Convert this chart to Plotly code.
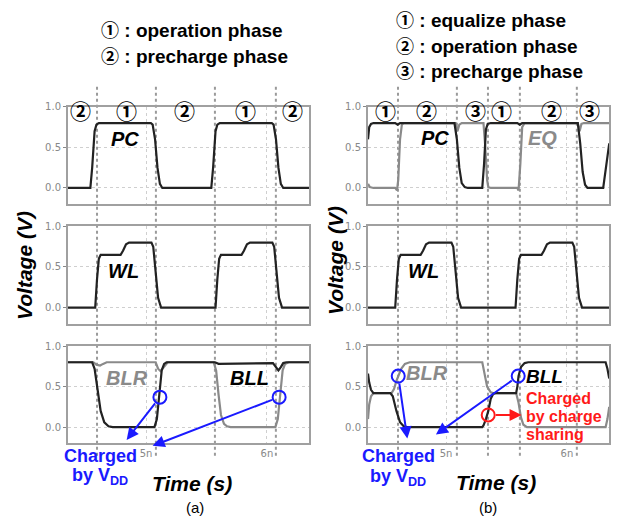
import plotly.graph_objects as go

W, H = 623, 519

# ---------------- data (time in ns, voltage in V) ----------------
# (a) left column
pc_a_t = [4.355, 4.54, 4.555, 4.575, 4.59, 4.61, 5.04, 5.055, 5.075, 5.095, 5.115, 5.135, 5.54, 5.555, 5.575, 5.59, 5.61, 6.04, 6.055, 6.075, 6.095, 6.115, 6.135, 6.35]
pc_a_v = [0.0, 0.0, 0.25, 0.7, 0.78, 0.8, 0.8, 0.78, 0.6, 0.25, 0.05, 0.0, 0.0, 0.25, 0.7, 0.78, 0.8, 0.8, 0.78, 0.6, 0.25, 0.05, 0.0, 0.0]

wl_a_t = [4.355, 4.58, 4.595, 4.61, 4.625, 4.645, 4.79, 4.81, 4.835, 4.86, 5.045, 5.06, 5.08, 5.10, 5.125, 5.575, 5.59, 5.605, 5.62, 5.64, 5.79, 5.81, 5.835, 5.86, 6.045, 6.06, 6.08, 6.10, 6.125, 6.35]
wl_a_v = [0.0, 0.0, 0.35, 0.6, 0.65, 0.65, 0.65, 0.7, 0.78, 0.8, 0.8, 0.75, 0.45, 0.12, 0.0, 0.0, 0.35, 0.6, 0.65, 0.65, 0.65, 0.7, 0.78, 0.8, 0.8, 0.75, 0.45, 0.12, 0.0, 0.0]

bll_a_t = [4.355, 4.555, 4.575, 4.6, 4.625, 4.655, 4.69, 4.725, 5.07, 5.09, 5.11, 5.13, 5.15, 5.17, 5.57, 5.6, 6.05, 6.075, 6.095, 6.115, 6.135, 6.16, 6.35]
bll_a_v = [0.8, 0.8, 0.72, 0.45, 0.2, 0.06, 0.01, 0.0, 0.0, 0.1, 0.4, 0.7, 0.78, 0.8, 0.8, 0.78, 0.79, 0.74, 0.7, 0.74, 0.79, 0.8, 0.8]

blr_a_t = [4.355, 4.565, 4.59, 4.62, 4.645, 4.675, 5.08, 5.1, 5.12, 5.145, 5.18, 5.56, 5.58, 5.6, 5.62, 5.645, 5.67, 5.7, 6.07, 6.09, 6.11, 6.13, 6.15, 6.18, 6.35]
blr_a_v = [0.8, 0.8, 0.77, 0.76, 0.78, 0.8, 0.8, 0.72, 0.69, 0.74, 0.8, 0.8, 0.7, 0.4, 0.15, 0.04, 0.01, 0.0, 0.0, 0.1, 0.45, 0.7, 0.78, 0.8, 0.8]

# (b) right column
pc_b_t = [4.355, 4.365, 4.38, 4.40, 4.58, 4.60, 4.62, 5.07, 5.09, 5.11, 5.13, 5.155, 5.18, 5.30, 5.315, 5.33, 5.345, 5.37, 5.59, 5.61, 5.63, 6.09, 6.11, 6.13, 6.15, 6.17, 6.30, 6.32, 6.35]
pc_b_v = [0.6, 0.75, 0.79, 0.8, 0.8, 0.78, 0.8, 0.8, 0.6, 0.25, 0.06, 0.01, 0.0, 0.0, 0.3, 0.72, 0.79, 0.8, 0.8, 0.78, 0.8, 0.8, 0.55, 0.2, 0.04, 0.0, 0.0, 0.2, 0.55]

eq_b_t = [4.355, 4.37, 4.40, 4.58, 4.595, 4.605, 4.62, 4.635, 4.65, 5.08, 5.095, 5.11, 5.13, 5.31, 5.325, 5.34, 5.35, 5.37, 5.59, 5.60, 5.615, 5.63, 5.65, 6.09, 6.105, 6.12, 6.14, 6.35]
eq_b_v = [0.05, 0.01, 0.0, 0.0, -0.03, 0.1, 0.6, 0.78, 0.8, 0.8, 0.7, 0.78, 0.8, 0.8, 0.5, 0.1, 0.01, 0.0, 0.0, -0.03, 0.3, 0.75, 0.8, 0.8, 0.7, 0.79, 0.8, 0.8]

wl_b_t = wl_a_t
wl_b_v = wl_a_v

bll_b_t = [4.355, 4.365, 4.38, 4.40, 4.54, 4.56, 4.59, 4.62, 4.65, 4.68, 5.30, 5.31, 5.33, 5.35, 5.37, 5.39, 5.41, 5.58, 5.59, 5.60, 5.62, 5.65, 5.68, 6.32, 6.335, 6.35]
bll_b_v = [0.66, 0.55, 0.46, 0.42, 0.42, 0.38, 0.2, 0.06, 0.01, 0.0, 0.0, 0.02, 0.1, 0.2, 0.35, 0.41, 0.42, 0.42, 0.5, 0.63, 0.74, 0.79, 0.8, 0.8, 0.72, 0.6]

blr_b_t = [4.355, 4.365, 4.38, 4.40, 4.55, 4.57, 4.59, 4.605, 4.63, 4.66, 4.70, 5.30, 5.32, 5.34, 5.37, 5.39, 5.58, 5.60, 5.62, 5.64, 5.67, 6.32, 6.335, 6.35]
blr_b_v = [0.1, 0.28, 0.38, 0.42, 0.42, 0.47, 0.57, 0.63, 0.72, 0.78, 0.8, 0.8, 0.65, 0.5, 0.43, 0.42, 0.42, 0.3, 0.12, 0.03, 0.0, 0.0, 0.1, 0.25]

# phase boundaries (ns) and phase labels
bound_a = [4.595, 5.082, 5.57, 6.074]
phase_a_t = [4.46, 4.84, 5.32, 5.82, 6.21]
phase_a_lbl = ["②", "①", "②", "①", "②"]
bound_b = [4.603, 5.09, 5.347, 5.611, 6.082]
phase_b_t = [4.5, 4.84, 5.24, 5.46, 5.87, 6.19]
phase_b_lbl = ["①", "②", "③", "①", "②", "③"]

# marked points
blue_a_t = [5.115, 6.101]
blue_a_v = [0.37, 0.37]
blue_a_tip_t = [4.84, 5.055]
blue_a_tip_v = [-0.157, -0.23]
blue_b_t = [4.605, 5.597]
blue_b_v = [0.63, 0.63]
blue_b_tip_t = [4.68, 4.917]
blue_b_tip_v = [-0.14, -0.09]
red_b_t = [5.349]
red_b_v = [0.15]
red_b_tip_t = [5.625]
red_b_tip_v = [0.15]

xticks = [5, 6]
xtick_lbl = ["5n", "6n"]
yticks = [0.0, 0.5, 1.0]
ytick_lbl = ["0.0", "0.5", "1.0"]

BLACK = "#222222"
GRAY = "#8a8a8a"
BLUE = "#1a1aff"
RED = "#ff1a1a"
CIRC_FONT = "Noto Sans CJK JP"

def py(y):
    return 1 - y / H

def px(x):
    return x / W

fig = go.Figure()

# axes: 1..3 left col, 4..6 right col
xdom = {1: [68 / W, 309 / W], 2: [368 / W, 609 / W]}
rows = [(102, 200.5), (223, 321.5), (344, 442.5)]

layout = dict(
    width=W, height=H, margin=dict(l=0, r=0, t=0, b=0),
    paper_bgcolor="white", plot_bgcolor="white", showlegend=False,
)
for col in (1, 2):
    for r in range(3):
        k = (col - 1) * 3 + r + 1
        xa = "xaxis" if k == 1 else f"xaxis{k}"
        ya = "yaxis" if k == 1 else f"yaxis{k}"
        layout[xa] = dict(
            domain=xdom[col], range=[4.355, 6.348], anchor=f"y{'' if k == 1 else k}",
            tickvals=xticks, ticktext=xtick_lbl, showticklabels=(r == 2),
            showgrid=True, gridcolor="#cfcfcf", griddash="dot", gridwidth=1,
            showline=True, linecolor="#a0a0a0", linewidth=2, mirror=True,
            ticks="", zeroline=False, fixedrange=True,
            tickfont=dict(family="DejaVu Sans", size=10, color="#888888"),
        )
        layout[ya] = dict(
            domain=[py(rows[r][1]), py(rows[r][0])], range=[-0.2, 1.0],
            anchor=f"x{'' if k == 1 else k}",
            tickvals=yticks, ticktext=ytick_lbl,
            showgrid=True, gridcolor="#cfcfcf", griddash="dot", gridwidth=1,
            showline=True, linecolor="#a0a0a0", linewidth=2, mirror=True,
            ticks="outside", ticklen=3, tickcolor="#888888",
            zeroline=False, fixedrange=True,
            tickfont=dict(family="DejaVu Sans", size=10, color="#888888"),
        )
fig.update_layout(**layout)

def add(t, v, k, color):
    fig.add_trace(go.Scatter(x=t, y=v, mode="lines", xaxis=f"x{'' if k == 1 else k}",
                             yaxis=f"y{'' if k == 1 else k}",
                             line=dict(color=color, width=2.2), hoverinfo="skip"))

add(pc_a_t, pc_a_v, 1, BLACK)
add(wl_a_t, wl_a_v, 2, BLACK)
add(blr_a_t, blr_a_v, 3, GRAY)
add(bll_a_t, bll_a_v, 3, BLACK)
add(eq_b_t, eq_b_v, 4, GRAY)
add(pc_b_t, pc_b_v, 4, BLACK)
add(wl_b_t, wl_b_v, 5, BLACK)
add(blr_b_t, blr_b_v, 6, GRAY)
add(bll_b_t, bll_b_v, 6, BLACK)

# circles
def circ(t, v, k, color):
    fig.add_trace(go.Scatter(x=t, y=v, mode="markers", xaxis=f"x{k}", yaxis=f"y{k}",
                             marker=dict(symbol="circle-open", size=13, color=color,
                                         line=dict(width=2, color=color)),
                             hoverinfo="skip"))

circ(blue_a_t, blue_a_v, 3, BLUE)
circ(blue_b_t, blue_b_v, 6, BLUE)
circ(red_b_t, red_b_v, 6, RED)

shapes = []
for b in bound_a:
    shapes.append(dict(type="line", xref="x", yref="paper", x0=b, x1=b,
                       y0=py(455), y1=py(80), line=dict(color="#9a9a9a", width=2, dash="dot"),
                       layer="below"))
for b in bound_b:
    shapes.append(dict(type="line", xref="x4", yref="paper", x0=b, x1=b,
                       y0=py(455), y1=py(80), line=dict(color="#9a9a9a", width=2, dash="dot"),
                       layer="below"))
fig.update_layout(shapes=shapes)

ann = []
def text(x, y, s, size, color="black", family="Liberation Sans", xanchor="center", textangle=0):
    ann.append(dict(x=px(x), y=py(y), xref="paper", yref="paper", text=s, showarrow=False,
                    xanchor=xanchor, yanchor="middle", textangle=textangle,
                    font=dict(size=size, color=color, family=family)))

def dtext(t, v, k, s, size, color, italic=True):
    ann.append(dict(x=t, y=v, xref=f"x{'' if k == 1 else k}", yref=f"y{'' if k == 1 else k}",
                    text=(f"<b><i>{s}</i></b>" if italic else f"<b>{s}</b>"), showarrow=False,
                    font=dict(size=size, color=color, family="Liberation Sans")))

def arrow(t0, v0, t1, v1, k, color):
    ann.append(dict(x=t1, y=v1, ax=t0, ay=v0, xref=f"x{k}", yref=f"y{k}",
                    axref=f"x{k}", ayref=f"y{k}", text="", showarrow=True,
                    arrowhead=2, arrowsize=1.2, arrowwidth=2, arrowcolor=color,
                    startstandoff=6))

def title_line(x, y, num, rest):
    s = (f"<span style='font-family:{CIRC_FONT};font-size:18px'><b>{num}</b></span>"
         f"<b>{rest}</b>")
    text(x, y, s, 19, xanchor="left")

# titles
title_line(99, 23, "①", " : operation phase")
title_line(99, 50, "②", " : precharge phase")
title_line(394, 13, "①", " : equalize phase")
title_line(394, 39, "②", " : operation phase")
title_line(394, 65, "③", " : precharge phase")

# phase numbers
for t, s in zip(phase_a_t, phase_a_lbl):
    ann.append(dict(x=t, y=py(88), xref="x", yref="paper", text=f"<b>{s}</b>", showarrow=False,
                    font=dict(size=21, color="black", family=CIRC_FONT)))
for t, s in zip(phase_b_t, phase_b_lbl):
    ann.append(dict(x=t, y=py(88), xref="x4", yref="paper", text=f"<b>{s}</b>", showarrow=False,
                    font=dict(size=21, color="black", family=CIRC_FONT)))

# axis titles
text(25, 263, "<b><i>Voltage (V)</i></b>", 21, textangle=-90)
text(335, 258, "<b><i>Voltage (V)</i></b>", 21, textangle=-90)
text(192, 483, "<b><i>Time (s)</i></b>", 21)
text(496, 482, "<b><i>Time (s)</i></b>", 21)
text(195, 507, "(a)", 15)
text(488, 507, "(b)", 15)

# signal labels
dtext(4.826, 0.6, 1, "PC", 20, "black")
dtext(4.81, 0.45, 2, "WL", 20, "black")
dtext(4.842, 0.6, 3, "BLR", 20, GRAY)
dtext(5.859, 0.6, 3, "BLL", 20, "black")
dtext(4.909, 0.62, 4, "PC", 20, "black")
dtext(5.801, 0.62, 4, "EQ", 20, GRAY)
dtext(4.81, 0.45, 5, "WL", 20, "black")
dtext(4.843, 0.67, 6, "BLR", 20, GRAY)
dtext(5.818, 0.62, 6, "BLL", 19, "black")

# arrows
for i in range(2):
    arrow(blue_a_t[i], blue_a_v[i], blue_a_tip_t[i], blue_a_tip_v[i], 3, BLUE)
    arrow(blue_b_t[i], blue_b_v[i], blue_b_tip_t[i], blue_b_tip_v[i], 6, BLUE)
arrow(red_b_t[0], red_b_v[0], red_b_tip_t[0], red_b_tip_v[0], 6, RED)

# annotation texts
text(100, 455, "<b>Charged</b>", 18, BLUE)
text(100, 476, "<b>by V<sub>DD</sub></b>", 18, BLUE)
text(398, 455, "<b>Charged</b>", 18, BLUE)
text(398, 477, "<b>by V<sub>DD</sub></b>", 18, BLUE)
text(524, 397, "<b>Charged</b>", 16, RED, xanchor="left")
text(524, 415.5, "<b>by charge</b>", 16, RED, xanchor="left")
text(524, 434, "<b>sharing</b>", 16, RED, xanchor="left")

fig.update_layout(annotations=ann)
fig.write_html("out.html")
